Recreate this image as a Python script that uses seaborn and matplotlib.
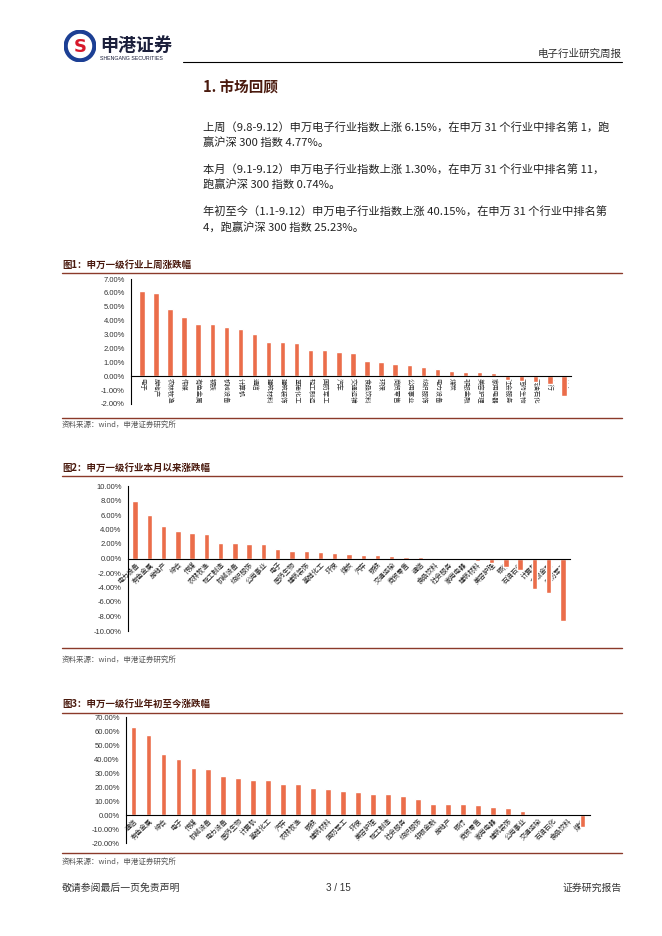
import numpy as np
import matplotlib
matplotlib.use('Agg')
import matplotlib.pyplot as plt
import matplotlib.patches as mpatches
from matplotlib.ticker import PercentFormatter
import seaborn as sns

# 图1：上周涨跌幅 (%)
week_cats = ['电子', '房地产', '农林牧渔', '传媒', '有色金属', '钢铁', '机械设备', '计算机', '通信',
             '建筑材料', '建筑装饰', '基础化工', '轻工制造', '国防军工', '汽车', '交通运输', '食品饮料',
             '环保', '商贸零售', '公用事业', '纺织服饰', '电力设备', '煤炭', '非银金融', '美容护理',
             '家用电器', '社会服务', '医药生物', '石油石化', '银行', '综合']
week_vals = [6.15, 6.00, 4.83, 4.28, 3.79, 3.74, 3.52, 3.40, 3.03, 2.49, 2.44, 2.36, 1.90, 1.87,
             1.75, 1.67, 1.08, 1.00, 0.86, 0.81, 0.69, 0.54, 0.37, 0.32, 0.27, 0.25, -0.25, -0.34,
             -0.39, -0.57, -1.40]

# 图2：本月以来涨跌幅 (%)
month_cats = ['电力设备', '有色金属', '房地产', '综合', '传媒', '农林牧渔', '轻工制造', '机械设备',
              '纺织服饰', '公用事业', '电子', '医药生物', '建筑装饰', '基础化工', '环保', '煤炭', '汽车',
              '钢铁', '交通运输', '商贸零售', '通信', '食品饮料', '社会服务', '家用电器', '建筑材料',
              '美容护理', '银行', '石油石化', '计算机', '非银金融', '国防军工']
month_vals = [8.00, 5.98, 4.44, 3.84, 3.56, 3.43, 2.18, 2.08, 2.04, 2.00, 1.30, 1.02, 0.97, 0.93,
              0.74, 0.65, 0.46, 0.42, 0.28, 0.23, 0.23, 0.09, -0.14, -0.23, -0.37, -0.56, -1.11,
              -1.62, -4.17, -4.72, -8.60]

# 图3：年初至今涨跌幅 (%)
ytd_cats = ['通信', '有色金属', '综合', '电子', '传媒', '机械设备', '电力设备', '医药生物', '计算机',
            '基础化工', '汽车', '农林牧渔', '钢铁', '建筑材料', '国防军工', '环保', '美容护理', '轻工制造',
            '社会服务', '纺织服饰', '非银金融', '房地产', '银行', '商贸零售', '家用电器', '建筑装饰',
            '公用事业', '交通运输', '石油石化', '食品饮料', '煤炭']
ytd_vals = [62.9, 57.2, 43.3, 39.7, 33.3, 33.1, 27.9, 26.7, 25.1, 24.8, 22.5, 22.5, 19.1, 18.9,
            17.0, 16.1, 14.9, 14.7, 13.7, 11.3, 8.0, 7.8, 7.8, 7.1, 5.7, 5.2, 2.6, 0.5, 0.1, -0.5,
            -8.7]

paragraphs = [
    ['上周（9.8-9.12）申万电子行业指数上涨 6.15%，在申万 31 个行业中排名第 1，跑',
     '赢沪深 300 指数 4.77%。'],
    ['本月（9.1-9.12）申万电子行业指数上涨 1.30%，在申万 31 个行业中排名第 11，',
     '跑赢沪深 300 指数 0.74%。'],
    ['年初至今（1.1-9.12）申万电子行业指数上涨 40.15%，在申万 31 个行业中排名第',
     '4，跑赢沪深 300 指数 25.23%。'],
]

sns.set_style('white')
plt.rcParams['font.family'] = ['Noto Sans CJK SC', 'DejaVu Sans']
plt.rcParams['axes.unicode_minus'] = False

W, H = 662, 936
BAR = '#EB6D4A'
BROWN = '#8B3A2A'
TITLE = '#4a1a0e'

fig = plt.figure(figsize=(W / 100, H / 100), dpi=100)


def fx(x):
    return x / W


def fy(y):
    return 1 - y / H


def hline(x0, x1, y, color, lw):
    fig.add_artist(plt.Line2D([fx(x0), fx(x1)], [fy(y), fy(y)], color=color, lw=lw))


# 页眉
logo = fig.add_axes([fx(64), fy(62), fx(32), 32 / H])
logo.set_xlim(-1, 1)
logo.set_ylim(-1, 1)
logo.set_aspect('equal')
logo.axis('off')
logo.add_patch(mpatches.Circle((0, 0), 0.98, color='#1c3f94'))
logo.add_patch(mpatches.Circle((0, 0), 0.72, color='white'))
logo.text(0, -0.05, 'S', color='#d7182a', fontsize=13, fontweight='bold', ha='center', va='center',
          family='DejaVu Sans')
fig.text(fx(100), fy(45), '申港证券', fontsize=13, fontweight='bold', color='#1b1f3b', va='center')
fig.text(fx(100), fy(58), 'SHENGANG SECURITIES', fontsize=3.8, color='#1b1f3b', va='center',
         family='Liberation Sans')
fig.text(fx(622), fy(54), '电子行业研究周报', fontsize=7.6, color='#333333', ha='right', va='center')
hline(183, 622, 61.5, 'black', 0.8)

fig.text(fx(203), fy(88), '1. 市场回顾', fontsize=10.5, fontweight='bold', color=TITLE, va='center')

line_ys = [128, 143, 170, 185, 212, 227]
k = 0
for para in paragraphs:
    for line in para:
        fig.text(fx(203), fy(line_ys[k]), line, fontsize=8.1, color='#222222', va='center')
        k += 1

# 页脚
fig.text(fx(62), fy(888), '敬请参阅最后一页免责声明', fontsize=7.1, color='#333333', va='center')
fig.text(fx(338), fy(888), '3 / 15', fontsize=7.1, color='#333333', ha='center', va='center',
         family='Liberation Sans')
fig.text(fx(622), fy(888), '证券研究报告', fontsize=7.1, color='#333333', ha='right', va='center')


def draw_chart(title, title_y, top_line, bottom_line, source_y, box, cats, vals, ylim, ystep,
               xlim, rot, lab_size):
    fig.text(fx(62), fy(title_y), title, fontsize=6.8, fontweight='bold', color=TITLE, va='center')
    hline(62, 622, top_line, BROWN, 1.0)
    hline(62, 622, bottom_line, BROWN, 1.0)
    fig.text(fx(62), fy(source_y), '资料来源：wind，申港证券研究所', fontsize=5.4, color='#555555',
             va='center', style='italic')

    x0, x1, y0, y1 = box
    ax = fig.add_axes([fx(x0), fy(y1), (x1 - x0) / W, (y1 - y0) / H])
    sns.barplot(x=cats, y=vals, color=BAR, saturation=1, width=0.38, ax=ax)
    ax.set_ylim(*ylim)
    ax.set_xlim(*xlim)
    ax.set_yticks(np.arange(ylim[0], ylim[1] + ystep / 2, ystep))
    ax.yaxis.set_major_formatter(PercentFormatter(decimals=2))
    for s in ['top', 'right']:
        ax.spines[s].set_visible(False)
    ax.spines['bottom'].set_position(('data', 0))
    for s in ['left', 'bottom']:
        ax.spines[s].set_color('black')
        ax.spines[s].set_linewidth(0.8)
    ax.set_xticks(np.arange(-0.5, len(cats), 1.0), minor=True)
    ax.tick_params(axis='x', which='major', length=0, pad=1.5)
    ax.tick_params(axis='x', which='minor', length=2.5, width=0.6, direction='out', color='black')
    ax.tick_params(axis='y', length=2.5, width=0.6, direction='out', color='black', pad=2)
    ax.set_xlabel('')
    ax.set_ylabel('')
    for t in ax.get_yticklabels():
        t.set_fontsize(5.5)
        t.set_family('Liberation Sans')
        t.set_color('#333333')
    if rot == -90:
        ax.set_xticks(range(len(cats)), cats, rotation=-90, fontsize=lab_size, color='#333333')
    else:
        ax.set_xticks(range(len(cats)), cats, rotation=45, ha='right', rotation_mode='anchor',
                      fontsize=lab_size, color='#222222')
    ax.patch.set_alpha(0)
    return ax


draw_chart('图1：申万一级行业上周涨跌幅', 265, 272.5, 418, 425, (131, 571, 279, 404),
           week_cats, week_vals, (-2, 7), 1, (-0.77, 30.22), -90, 4.6)
draw_chart('图2：申万一级行业本月以来涨跌幅', 468, 476.5, 648, 660, (128, 570, 486, 631),
           month_cats, month_vals, (-10, 10), 2, (-0.49, 30.28), 45, 4.9)
draw_chart('图3：申万一级行业年初至今涨跌幅', 704, 712.5, 853, 862, (126, 590, 717, 843),
           ytd_cats, ytd_vals, (-20, 70), 10, (-0.43, 30.47), 45, 4.9)

fig.savefig('out.png', dpi=100)
